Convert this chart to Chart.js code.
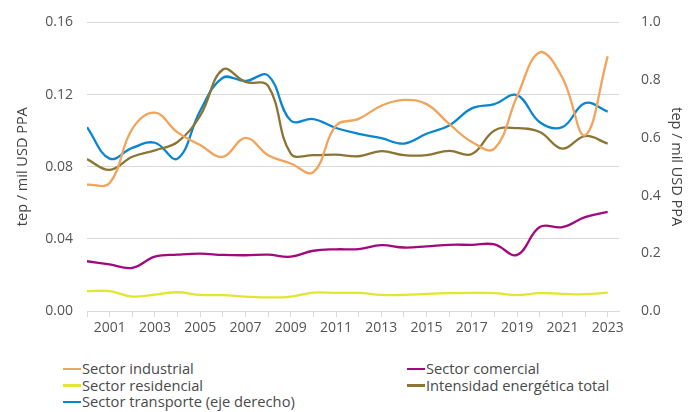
<!DOCTYPE html>
<html lang="es">
<head>
<meta charset="utf-8">
<script src="https://cdn.jsdelivr.net/npm/chart.js@4/dist/chart.umd.min.js"></script>
<style>
  html, body { margin: 0; padding: 0; background: #fff; }
  #wrap { position: relative; width: 699px; height: 412px; font-family: "Open Sans", sans-serif; }
  #box { position: absolute; left: 0; top: 0; width: 699px; height: 345px; }
  #leyenda { position: absolute; left: 0; top: 360px; width: 699px; font-size: 14.7px; color: #4a4a4a; }
  .item { position: absolute; height: 17px; line-height: 17px; white-space: nowrap; }
  .item i { display: inline-block; width: 18px; height: 2.5px; vertical-align: middle; margin-right: 1px; position: relative; top: -1px; }
</style>
</head>
<body>
<div id="wrap">
  <div id="box"><canvas id="grafico"></canvas></div>
  <div id="leyenda"></div>
</div>
<script>
// Intensidad energética por sector, 2000-2023 (tep / mil USD PPA)
const anos = [2000, 2001, 2002, 2003, 2004, 2005, 2006, 2007, 2008, 2009, 2010, 2011,
              2012, 2013, 2014, 2015, 2016, 2017, 2018, 2019, 2020, 2021, 2022, 2023];

const industrial = [0.070, 0.071, 0.101, 0.110, 0.099, 0.092, 0.0855, 0.096, 0.0864, 0.0818, 0.077, 0.1028,
                    0.1065, 0.1138, 0.117, 0.1147, 0.1037, 0.0937, 0.090, 0.119, 0.1434, 0.1293, 0.0974, 0.1412];
const comercial = [0.0276, 0.0258, 0.0239, 0.0301, 0.0312, 0.0318, 0.0311, 0.0309, 0.0312, 0.0301, 0.0334, 0.0342,
                   0.0343, 0.0365, 0.0352, 0.0358, 0.0367, 0.0367, 0.0369, 0.0311, 0.0466, 0.0465, 0.052, 0.055];
const residencial = [0.011, 0.011, 0.0080, 0.0091, 0.0104, 0.0089, 0.0088, 0.0080, 0.0075, 0.0080, 0.0102, 0.0100,
                     0.0100, 0.0089, 0.0089, 0.0095, 0.0099, 0.0100, 0.0099, 0.0088, 0.0099, 0.0095, 0.0093, 0.0102];
const total = [0.0842, 0.0782, 0.0855, 0.0891, 0.0937, 0.1083, 0.1339, 0.127, 0.1248, 0.0873, 0.0864, 0.0867,
               0.0858, 0.0886, 0.0864, 0.0864, 0.0888, 0.087, 0.1001, 0.1014, 0.0992, 0.090, 0.097, 0.0928];
// eje derecho
const transporte = [0.637, 0.528, 0.565, 0.583, 0.528, 0.694, 0.808, 0.797, 0.816, 0.66, 0.665, 0.634,
                    0.614, 0.599, 0.58, 0.614, 0.643, 0.702, 0.717, 0.748, 0.654, 0.637, 0.72, 0.691];

const series = [
  { nombre: 'Sector industrial', datos: industrial, color: '#f0a45c', eje: 'y' },
  { nombre: 'Sector comercial', datos: comercial, color: '#a2097f', eje: 'y' },
  { nombre: 'Sector residencial', datos: residencial, color: '#e3e62e', eje: 'y' },
  { nombre: 'Intensidad energética total', datos: total, color: '#8b7535', eje: 'y' },
  { nombre: 'Sector transporte (eje derecho)', datos: transporte, color: '#0a86d1', eje: 'y1' },
];

const gris = '#555';
const fuente = { family: 'Open Sans', size: 14 };

new Chart(document.getElementById('grafico'), {
  type: 'line',
  data: {
    datasets: series.map((s) => ({
      label: s.nombre,
      data: s.datos.map((v, i) => ({ x: anos[i], y: v })),
      borderColor: s.color,
      borderWidth: 2.3,
      pointRadius: 0,
      tension: 0.4,
      fill: false,
      yAxisID: s.eje,
    })),
  },
  options: {
    responsive: true,
    maintainAspectRatio: false,
    animation: false,
    layout: { padding: { top: 19, left: 0, right: 0, bottom: 0 } },
    plugins: { legend: { display: false }, tooltip: { enabled: false } },
    scales: {
      x: {
        type: 'linear',
        min: 2000,
        max: 2023.5,
        border: { color: '#d9d9d9', width: 1 },
        grid: { drawOnChartArea: false, drawTicks: true, tickLength: 6, color: '#d9d9d9' },
        ticks: {
          stepSize: 1,
          includeBounds: false,
          autoSkip: false,
          maxRotation: 0,
          padding: 3,
          color: gris,
          font: fuente,
          callback: (v) => (v % 2 === 1 ? String(v) : ''),
        },
        afterFit: (escala) => { escala.height = 34; },
      },
      y: {
        position: 'left',
        min: 0,
        max: 0.16,
        border: { display: false },
        grid: { color: '#d9d9d9', borderDash: [6, 4], drawTicks: false },
        ticks: { stepSize: 0.04, padding: 14, color: gris, font: fuente, callback: (v) => v.toFixed(2) },
        title: { display: true, text: 'tep / mil USD PPA', color: '#444', font: { family: 'Open Sans', size: 14.5 }, padding: { top: 14, bottom: 0 } },
        afterFit: (escala) => { escala.width = 87; },
      },
      y1: {
        position: 'right',
        min: 0,
        max: 1,
        border: { display: false },
        grid: { display: false, drawOnChartArea: false },
        ticks: { stepSize: 0.2, padding: 14, color: gris, font: fuente, callback: (v) => v.toFixed(1) },
        title: { display: true, text: 'tep / mil USD PPA', color: '#444', font: { family: 'Open Sans', size: 14.5 }, padding: { top: 14, bottom: 0 } },
        afterFit: (escala) => { escala.width = 80; },
      },
    },
  },
});

// Leyenda en dos columnas, como en el original
const posiciones = [
  { left: 63, top: 0 },    // industrial
  { left: 407, top: 0 },   // comercial
  { left: 63, top: 16.5 }, // residencial
  { left: 407, top: 16.5 },// total
  { left: 63, top: 33 },   // transporte
];
const leyenda = document.getElementById('leyenda');
series.forEach((s, i) => {
  const el = document.createElement('div');
  el.className = 'item';
  el.style.left = posiciones[i].left + 'px';
  el.style.top = posiciones[i].top + 'px';
  el.innerHTML = '<i style="background:' + s.color + '"></i>' + s.nombre;
  leyenda.appendChild(el);
});
</script>
</body>
</html>
